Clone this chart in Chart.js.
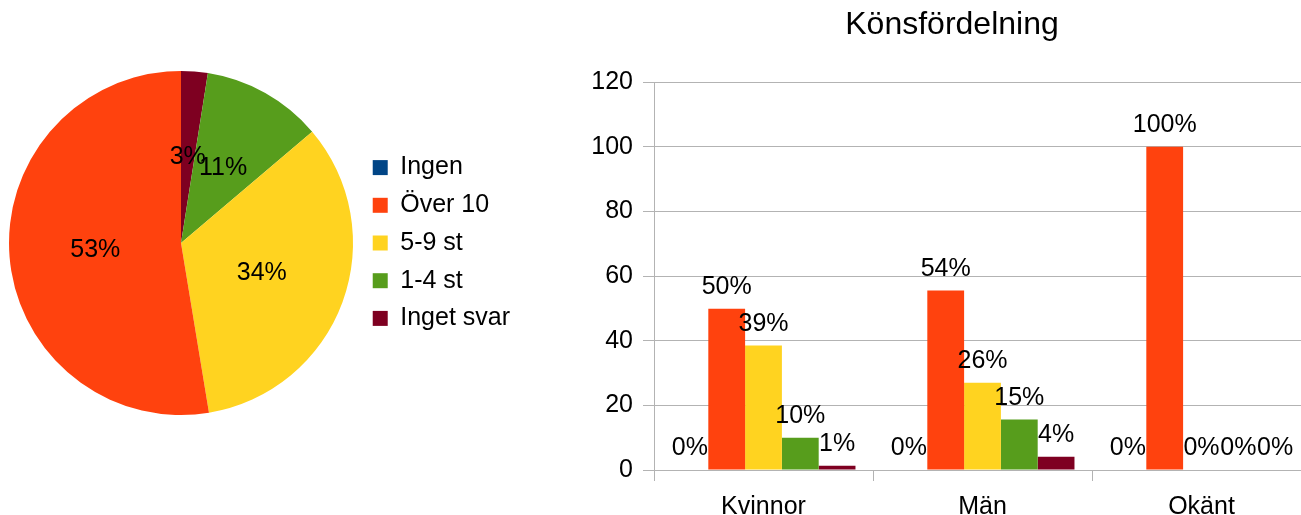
<!DOCTYPE html>
<html>
<head>
<meta charset="utf-8">
<script src="https://cdn.jsdelivr.net/npm/chart.js@4"></script>
<style>
  html, body { margin: 0; padding: 0; background: #ffffff; overflow: hidden; width: 1301px; height: 515px; }
  #pieChart { position: absolute; left: 0; top: 0; }
  #barChart { position: absolute; left: 593px; top: 0; }
</style>
</head>
<body>
<canvas id="pieChart" width="520" height="486"></canvas>
<canvas id="barChart" width="718" height="533"></canvas>
<script>
// Answer categories (legend order) and their colours
const answerLabels = ['Ingen', 'Över 10', '5-9 st', '1-4 st', 'Inget svar'];
const answerColors = ['#004586', '#ff420e', '#ffd320', '#579d1c', '#7e0021'];

// Pie values, share of all answers (legend order)
const pieValues = [0, 52.6, 33.6, 11.3, 2.5];

// Bar chart categories and one array per answer (Kvinnor, Män, Okänt)
const genderLabels = ['Kvinnor', 'Män', 'Okänt'];
const ingenValues = [0, 0, 0];
const over10Values = [49.9, 55.5, 100];
const st5to9Values = [38.5, 27.0, 0];
const st1to4Values = [10.0, 15.6, 0];
const ingetSvarValues = [1.3, 4.1, 0];

// Y axis tick settings
const yMin = 0;
const yMax = 120;
const yStep = 20;

const barTitle = 'Könsfördelning';

const fontFamily = '"Liberation Sans", Arial, sans-serif';
const fontSize = 25;
const gridColor = '#b3b3b3';

// Plugin drawing percentage labels in the middle of each pie slice
const pieLabels = {
  id: 'pieLabels',
  afterDatasetsDraw(chart) {
    const ctx = chart.ctx;
    const meta = chart.getDatasetMeta(0);
    const values = chart.data.datasets[0].data;
    const total = values.reduce((a, b) => a + b, 0);
    ctx.save();
    ctx.font = fontSize + 'px ' + fontFamily;
    ctx.fillStyle = '#000000';
    ctx.textAlign = 'center';
    ctx.textBaseline = 'middle';
    meta.data.forEach((arc, i) => {
      if (!values[i]) return;
      const pos = arc.tooltipPosition();
      ctx.fillText(Math.round(values[i] / total * 100) + '%', pos.x, pos.y);
    });
    ctx.restore();
  },
};

// Plugin drawing labels above bars: share of the bar within its category
const barLabels = {
  id: 'barLabels',
  afterDatasetsDraw(chart) {
    const ctx = chart.ctx;
    const sets = chart.data.datasets;
    ctx.save();
    ctx.font = fontSize + 'px ' + fontFamily;
    ctx.fillStyle = '#000000';
    ctx.textAlign = 'center';
    ctx.textBaseline = 'alphabetic';
    sets.forEach((set, d) => {
      const meta = chart.getDatasetMeta(d);
      meta.data.forEach((bar, i) => {
        const sum = sets.reduce((a, s) => a + s.data[i], 0);
        const pct = Math.round(set.data[i] / sum * 100);
        ctx.fillText(pct + '%', bar.x, bar.y - 15);
      });
    });
    ctx.restore();
  },
};

// Pie is drawn clockwise, LibreOffice draws it counter-clockwise, so the data is reversed
new Chart(document.getElementById('pieChart'), {
  type: 'pie',
  data: {
    labels: answerLabels.slice().reverse(),
    datasets: [{
      data: pieValues.slice().reverse(),
      backgroundColor: answerColors.slice().reverse(),
      borderWidth: 0,
    }],
  },
  options: {
    responsive: false,
    animation: false,
    layout: { padding: { top: 71, bottom: 71, left: 2, right: 0 } },
    plugins: {
      legend: {
        position: 'right',
        reverse: true,
        labels: {
          font: { family: fontFamily, size: fontSize },
          color: '#000000',
          boxWidth: 15,
          boxHeight: 15,
          padding: 12.7,
        },
      },
      tooltip: { enabled: false },
    },
  },
  plugins: [pieLabels],
});

// Grouped bar chart by gender
const barSets = [ingenValues, over10Values, st5to9Values, st1to4Values, ingetSvarValues];
new Chart(document.getElementById('barChart'), {
  type: 'bar',
  data: {
    labels: genderLabels,
    datasets: barSets.map((values, i) => ({
      label: answerLabels[i],
      data: values,
      backgroundColor: answerColors[i],
      borderWidth: 0,
      barPercentage: 1,
      categoryPercentage: 0.84,
    })),
  },
  options: {
    responsive: false,
    animation: false,
    layout: { padding: 0 },
    plugins: {
      legend: { display: false },
      tooltip: { enabled: false },
      title: {
        display: true,
        text: barTitle,
        color: '#000000',
        font: { family: fontFamily, size: 32, weight: 'normal' },
        padding: { top: 6, bottom: 37.6 },
      },
    },
    scales: {
      x: {
        grid: {
          offset: true,
          drawOnChartArea: false,
          tickLength: 11,
          color: gridColor,
        },
        border: { color: gridColor },
        ticks: {
          font: { family: fontFamily, size: fontSize },
          color: '#000000',
          padding: 11,
        },
      },
      y: {
        min: yMin,
        max: yMax,
        afterFit(scale) {
          // fixed axis width so the plot starts where the original does
          scale.width = 61;
        },
        grid: { color: gridColor, tickLength: 11 },
        border: { color: gridColor },
        ticks: {
          stepSize: yStep,
          font: { family: fontFamily, size: fontSize },
          color: '#000000',
          padding: 10,
        },
      },
    },
  },
  plugins: [barLabels],
});
</script>
</body>
</html>
